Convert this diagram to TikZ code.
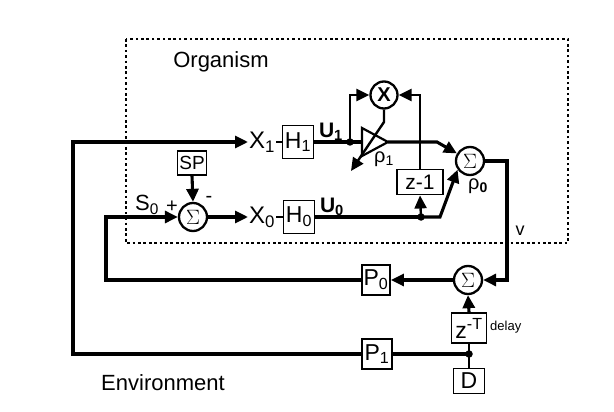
\documentclass[tikz,border=0pt]{standalone}
\usepackage{fontspec}
\setmainfont{Liberation Sans}
\usetikzlibrary{arrows.meta}
\tikzset{
	blk/.style={draw, line width=1.9pt, inner sep=1pt, font=\fontsize{23}{23}\selectfont},
	sumnode/.style={draw, circle, line width=2.3pt, minimum size=28pt, inner sep=0pt, font=\fontsize{22}{22}\selectfont},
	lbl/.style={inner sep=1pt, font=\fontsize{22}{24}\selectfont},
	sig/.style={line width=3.1pt},
	arr/.style={sig, -{Triangle[length=13pt,width=12pt]}},
	joint/.style={circle, fill=black, inner sep=0pt, minimum size=7.5pt},
}

\begin{document}
\begin{tikzpicture}[x=1pt, y=-1pt]
			%%%%% START %%%%%
			\useasboundingbox (0, 0) rectangle (614, 412);
			
			\draw[line width=2.7pt, dash pattern=on 2.7pt off 2.7pt] (126, 39) rectangle (568, 243);
			\node[lbl] (org) at (221, 62) {Organism};
			\node[lbl] (env) at (163, 383) {Environment};
			
			% upper row
			\node[lbl, anchor=west, font=\fontsize{24}{24}\selectfont] (X1) at (248, 142) {X\textsubscript{1}};
			\node[blk, minimum width=31pt, minimum height=33pt] (H1) at (298, 142) {H\textsubscript{1}};
			\node[lbl, font=\fontsize{21}{21}\selectfont\bfseries] (U1) at (331, 132) {U\textsubscript{1}};
			\node[joint] (dot1) at (350, 142) {};
			\node[sumnode, minimum size=27pt, font=\fontsize{20}{20}\selectfont] (mult) at (384, 95) {\textbf{X}};
			\draw[line width=2.2pt] (362, 128) coordinate (ampT) -- (388, 142) coordinate (ampO) -- (362, 156) -- cycle;
			\coordinate (ampI) at (362, 142);
			\node[lbl, font=\fontsize{20}{20}\selectfont] (rho1) at (384, 159) {ρ\textsubscript{1}};
			\node[blk, minimum width=46pt, minimum height=25pt, font=\fontsize{21}{21}\selectfont] (zm1) at (420, 182) {z-1};
			\node[sumnode] (sumB) at (470, 161) {$\Sigma$};
			\node[lbl, font=\fontsize{20}{20}\selectfont] (rho0) at (478, 186) {ρ\textsubscript{\textbf{0}}};
			
			% lower row
			\node[blk, minimum width=29pt, minimum height=24pt, font=\fontsize{19}{19}\selectfont] (SP) at (192, 163) {SP};
			\node[sumnode] (sumA) at (193, 217) {$\Sigma$};
			\node[lbl, font=\fontsize{20}{20}\selectfont] (plus) at (172, 207) {+};
			\node[lbl, font=\fontsize{20}{20}\selectfont] (minus) at (209, 199) {-};
			\node[lbl] (S0) at (147, 205) {S\textsubscript{0}};
			\node[lbl, anchor=west, font=\fontsize{24}{24}\selectfont] (X0) at (248, 217) {X\textsubscript{0}};
			\node[blk, minimum width=31pt, minimum height=33pt] (H0) at (299, 217) {H\textsubscript{0}};
			\node[lbl, font=\fontsize{21}{21}\selectfont\bfseries] (U0) at (332, 207) {U\textsubscript{0}};
			\node[joint] (dot2) at (421, 217) {};
			
			% environment
			\node[sumnode] (sumC) at (468, 280) {$\Sigma$};
			\node[blk, minimum width=28pt, minimum height=30pt] (P0) at (376, 280) {P\textsubscript{0}};
			\node[blk, minimum width=35pt, minimum height=30pt] (zT) at (469, 328) {z\textsuperscript{-T}};
			\node[lbl, anchor=west, font=\fontsize{13}{13}\selectfont] (delay) at (489, 327) {delay};
			\node[blk, minimum width=30pt, minimum height=30pt] (P1) at (377, 354) {P\textsubscript{1}};
			\node[joint] (dot3) at (469, 354) {};
			\node[blk, minimum width=31pt, minimum height=25pt] (D) at (469, 381) {D};
			\node[lbl, font=\fontsize{18}{18}\selectfont] (v) at (520, 231) {v};
			
			\coordinate (p1bend) at (73, 142);
			\coordinate (s0bend) at (106, 217);
			\coordinate (gain) at (384, 122);
			\coordinate (gainE) at (351, 171);
			\coordinate (ampK) at (437, 142);
			\coordinate (u0K) at (440, 217);
			\coordinate (vbend) at (507, 161);
			
			% connectors
			\draw[arr] (P1.west) -| (p1bend) -- (X1.west);
			\draw[sig, line width=2.2pt] (X1.east) -- (H1.west);
			\draw[sig] (H1.east) -- (dot1.center) -- (ampI);
			\draw[arr, line width=2.4pt] (dot1.center) |- (mult);
			\draw[arr, line width=2.4pt] (mult.south) -- (gain) -- (gainE);
			\draw[arr, line width=2.4pt] (zm1.north) |- (mult);
			\draw[arr] (ampO) -- (ampK) -- (sumB.150);
			
			\draw[arr] (SP.south) -- (sumA.north);
			\draw[arr] (P0.west) -| (s0bend) -- (sumA.west);
			\draw[arr] (sumA.east) -- (X0.west);
			\draw[sig, line width=2.2pt] (X0.east) -- (H0.west);
			\draw[sig] (H0.east) -- (dot2.center);
			\draw[arr] (dot2.center) -- (u0K) -- (sumB.215);
			\draw[arr, line width=2.4pt] (dot2.center) -- (zm1.south);
			
			\draw[arr] (sumB.east) -- (vbend) |- (sumC.east);
			\draw[arr] (sumC.west) -- (P0.east);
			\draw[arr] (zT.north) -- (sumC.south);
			\draw[sig] (P1.east) -- (dot3.center);
			\draw[sig, line width=2.2pt] (dot3.center) -- (zT.south);
			\draw[sig, line width=2.2pt] (dot3.center) -- (D.north);
			%%%%% END %%%%%
\end{tikzpicture}
\end{document}
